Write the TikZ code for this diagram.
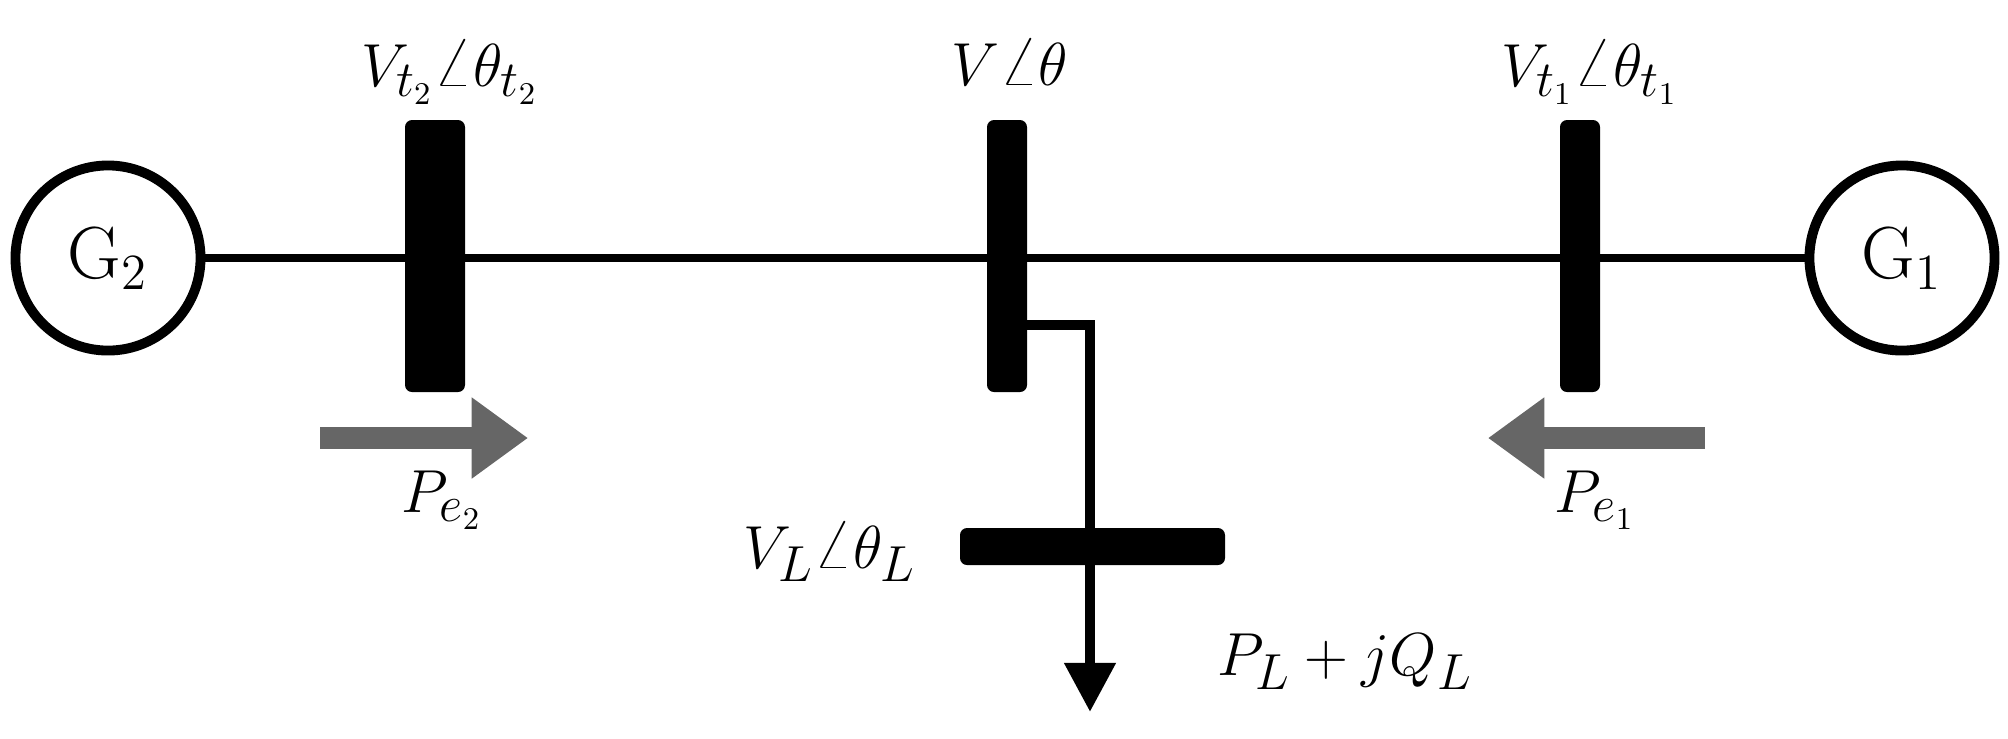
\documentclass[tikz,border=0pt]{standalone}
\usepackage{amsmath}
\usetikzlibrary{arrows.meta}
\begin{document}
\begin{tikzpicture}[x=0.01cm,y=-0.01cm,
  gen/.style={circle,draw,line width=2.8pt,minimum size=1.85cm,inner sep=0pt,font=\fontsize{21}{25}\selectfont},
  bar/.style={fill=black,rounded corners=2pt},
  lbl/.style={font=\fontsize{19}{23}\selectfont},
  wire/.style={line width=2.2pt},
  pflow/.style={line width=6pt,draw=black!60,-{Triangle[length=16pt,width=22pt]}}]
\useasboundingbox (0,0) rectangle (2008,738);
\node[gen] (g2) at (108,258) {G$_2$};
\node[gen] (g1) at (1902,258) {G$_1$};
\path[bar] (405,120) rectangle (465,392);
\path[bar] (987,120) rectangle (1027,392);
\path[bar] (1560,120) rectangle (1600,392);
\path[bar] (960,528) rectangle (1225,565);
\draw[wire] (g2.east) -- (g1.west);
\coordinate (ls) at (1027,325);
\coordinate (le) at (1090,712);
\draw[wire,line width=3pt,-{Triangle[length=14pt,width=14pt]}] (ls) -| (le);
\node[lbl] (l1) at (450,72) {$V_{t_2}\angle\theta_{t_2}$};
\node[lbl] (l2) at (1010,62) {$V\angle\theta$};
\node[lbl] (l3) at (1590,72) {$V_{t_1}\angle\theta_{t_1}$};
\node[lbl] (l4) at (442,500) {$P_{e_2}$};
\node[lbl] (l5) at (1595,500) {$P_{e_1}$};
\node[lbl] (l6) at (830,552) {$V_L\angle\theta_L$};
\node[lbl] (l7) at (1345,662) {$P_L+jQ_L$};
\coordinate (a1) at (320,438); \coordinate (a2) at (528,438);
\coordinate (a3) at (1705,438); \coordinate (a4) at (1488,438);
\draw[pflow] (a1) -- (a2);
\draw[pflow] (a3) -- (a4);
\end{tikzpicture}
\end{document}
